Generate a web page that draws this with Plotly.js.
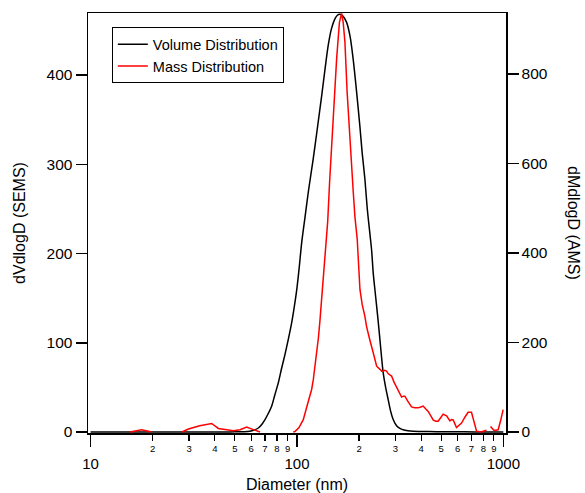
<!DOCTYPE html>
<html>
<head>
<meta charset="utf-8">
<script src="https://cdn.plot.ly/plotly-3.0.1.min.js"></script>
<style>html,body{margin:0;padding:0;background:#fff;}#chart{width:585px;height:493px;}</style>
</head>
<body>
<div id="chart"></div>
<script>
// Volume distribution (SEMS), left axis
const volDiameter = [10, 15, 20, 25, 30, 35, 40, 45, 50, 55, 59.1, 62, 65, 67.5, 70, 72.5, 75.4, 78, 81.2, 84, 87.5, 91, 94.2, 97, 99.7, 102.3, 105.4, 109.3, 114, 119.9, 125, 131.8, 137, 141.9, 147, 152.7, 157, 161.5, 167, 174, 181, 187.4, 194, 201.9, 207, 213.3, 219, 225.7, 230, 234.2, 238.5, 243.3, 248, 252.5, 257, 261.9, 269, 276.9, 284, 292.6, 304, 315.5, 327, 345, 366, 400, 474, 550, 650, 800, 1000];
const volValues = [0, 0, 0, 0, 0, 0, 0, 0.1, 0.2, 0.4, 0.9, 2.2, 4.5, 8.5, 14, 20.5, 29, 41, 55, 70, 87, 105, 122, 140, 159, 182, 212, 240, 272, 306, 337, 377, 408, 434, 452, 463, 467, 468, 466, 459, 443, 417, 384, 342, 313, 284, 251, 222, 204, 178, 160, 141, 122, 103, 84, 66, 50, 36, 24, 14, 7, 4, 2.5, 1.5, 1, 0.7, 0.4, 0.3, 0.2, 0.1, 0.1];

// Mass distribution (AMS), right axis (null = gap in data)
const massDiameter = [15.5, 16.5, 17.7, 18.8, 19.8, 23, 27.7, 29.8, 33.8, 38.6, 41.6, 45, 49.2, 53, 57, 61, 66.2, 80, 96, 97.8, 102.3, 107.3, 112.5, 117.8, 120, 124.6, 127, 129.3, 131.8, 134, 136.7, 140.9, 144, 147.3, 151.5, 155.7, 160.6, 164.6, 167.5, 170.8, 175, 180.6, 184, 187.5, 191, 194.5, 195.9, 201.9, 207, 213.3, 217.6, 225.7, 230, 234.2, 243.3, 248, 252.5, 257.2, 261.9, 266, 271.8, 277, 287.4, 295, 304, 315.5, 321.4, 327.7, 333.5, 343, 359, 372, 386.7, 398, 408.9, 420, 432.4, 444, 457, 470, 483, 497, 511, 531, 551, 561, 571.6, 593, 610, 627.5, 651, 675, 701, 720, 742, 778, 810, 829, 848, 867, 880, 899.5, 920, 944, 970, 998];
const massValues = [0, 3, 5, 2.5, 0, null, 0, 6.7, 14, 19, 8, 5, 3, 5, 11, 6, 0, null, 0, 1, 10, 27.5, 62, 95, 117, 175, 210, 250, 295, 345, 401, 470, 560, 647, 740, 834, 915, 935, 915, 871, 760, 647, 590, 535, 480, 448, 431, 319, 285, 259, 235, 205, 192, 177, 147, 142, 140, 136, 136, 138, 136, 130, 125, 112, 100, 85, 78, 80, 80, 70, 56, 54, 54, 56, 58, 52, 46, 37, 27, 24, 24, 32, 40, 36, 25, 28, 27, 10, 15, 20, 33, 44, 44, 25, 2, 0, 2, 4, null, 12.5, 9, 4, 4, 5, 25, 50];

// Axis ticks
const majorTicks = [10, 100, 1000];
const majorLabels = ['10', '100', '1000'];
const minorTicks = [20, 30, 40, 50, 60, 70, 80, 90, 200, 300, 400, 500, 600, 700, 800, 900];
const minorLabels = ['2', '3', '4', '5', '6', '7', '8', '9', '2', '3', '4', '5', '6', '7', '8', '9'];
const leftTicks = [0, 100, 200, 300, 400];
const rightTicks = [0, 200, 400, 600, 800];

const FONT = 'Liberation Sans, Arial, sans-serif';
const xRange = [0.9874, 3.013];

const traces = [
  {x: volDiameter, y: volValues, name: 'Volume Distribution', type: 'scatter', mode: 'lines',
   line: {color: '#000000', width: 1.5, shape: 'spline', smoothing: 0.8}, xaxis: 'x', yaxis: 'y'},
  {x: massDiameter, y: massValues, name: 'Mass Distribution', type: 'scatter', mode: 'lines',
   line: {color: '#ff0000', width: 1.5}, connectgaps: false, xaxis: 'x2', yaxis: 'y2'}
];

const layout = {
  width: 585, height: 493,
  margin: {l: 88, r: 79, t: 13, b: 60},
  paper_bgcolor: '#ffffff', plot_bgcolor: '#ffffff',
  font: {family: FONT, size: 15.5, color: '#000'},
  showlegend: true,
  legend: {x: 0.057, y: 0.966, xanchor: 'left', yanchor: 'top', bgcolor: '#ffffff',
           bordercolor: '#000000', borderwidth: 1, font: {family: FONT, size: 14.5, color: '#000'},
           tracegroupgap: 0, itemwidth: 30, traceorder: 'normal'},
  xaxis: {type: 'log', range: xRange, tickmode: 'array', tickvals: majorTicks, ticktext: majorLabels,
          ticks: 'outside', ticklen: 12, tickwidth: 1.5, tickcolor: '#000',
          showline: true, linecolor: '#000', linewidth: 1.5, mirror: true,
          showgrid: false, zeroline: false, ticklabelstandoff: 4,
          tickfont: {family: FONT, size: 15, color: '#000'},
          title: {text: 'Diameter (nm)', font: {family: FONT, size: 16, color: '#000'}, standoff: 8}},
  xaxis2: {type: 'log', range: xRange, overlaying: 'x', anchor: 'y2', side: 'bottom',
           tickmode: 'array', tickvals: minorTicks, ticktext: minorLabels,
           ticks: 'outside', ticklen: 7, tickwidth: 1.2, tickcolor: '#000',
           showline: false, showgrid: false, zeroline: false,
           tickfont: {family: FONT, size: 9.5, color: '#000'}},
  yaxis: {range: [-1.1, 469.5], tickmode: 'array', tickvals: leftTicks,
          ticks: 'outside', ticklen: 11, tickwidth: 1.5, tickcolor: '#000',
          showline: true, linecolor: '#000', linewidth: 1.5,
          showgrid: false, zeroline: false,
          tickfont: {family: FONT, size: 15.5, color: '#000'},
          title: {text: 'dVdlogD (SEMS)', font: {family: FONT, size: 16, color: '#000'}, standoff: 17}},
  yaxis2: {range: [-2.2, 936], overlaying: 'y', side: 'right', anchor: 'x2',
           tickmode: 'array', tickvals: rightTicks,
           ticks: 'outside', ticklen: 11, tickwidth: 1.5, tickcolor: '#000',
           showline: true, linecolor: '#000', linewidth: 1.5,
           showgrid: false, zeroline: false,
           tickfont: {family: FONT, size: 15.5, color: '#000'}},
  annotations: [
    {text: 'dMdlogD (AMS)', xref: 'paper', yref: 'paper', x: 1.1627, y: 0.5,
     xanchor: 'center', yanchor: 'middle', textangle: 90, showarrow: false,
     font: {family: FONT, size: 16, color: '#000'}}
  ]
};

Plotly.newPlot('chart', traces, layout, {displayModeBar: false, staticPlot: true});
</script>
</body>
</html>
